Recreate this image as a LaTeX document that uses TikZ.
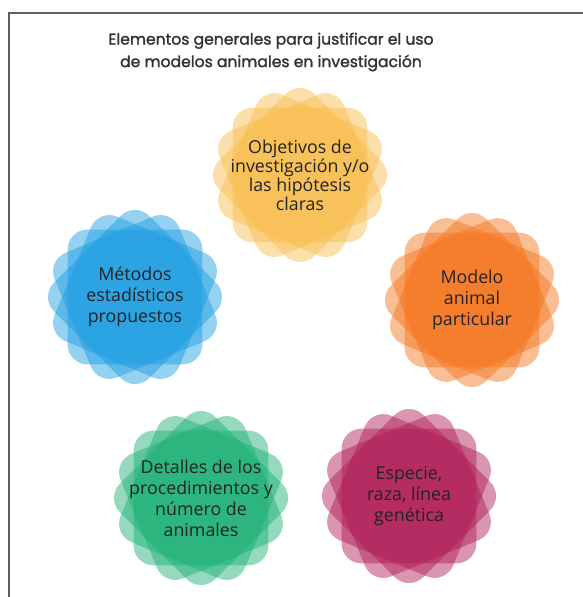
\documentclass[tikz,border=0pt]{standalone}
\usepackage{fontspec}
\setmainfont{Open Sans}
\newfontfamily\titlefont[FakeBold=1.6]{Poppins}
\definecolor{cyel}{RGB}{249,189,75}
\definecolor{corg}{RGB}{245,115,25}
\definecolor{cblu}{RGB}{25,155,225}
\definecolor{cgrn}{RGB}{25,175,115}
\definecolor{cmag}{RGB}{175,25,85}
\definecolor{txtgray}{RGB}{35,35,35}
\definecolor{titlegray}{RGB}{50,50,50}
\definecolor{framegray}{RGB}{95,95,95}
\tikzset{
  petal/.style={fill=#1, fill opacity=.46, rounded corners=20pt},
  flowertext/.style={align=center, text=txtgray, font=\fontsize{17.8}{21}\selectfont, inner sep=0pt},
}
\newcommand\myflower[6][21]{%
  \foreach \ang in {0,22.5,45,67.5}
    \fill[petal=#5, rotate around={\ang:(#3,#4)}] (#3-67.4,#4-67.4) rectangle (#3+67.4,#4+67.4);
  \node[flowertext, font=\fontsize{17.8}{#1}\selectfont] (#2) at (#3,#4) {#6};
}
\begin{document}
\begin{tikzpicture}[x=1pt,y=-1pt]
\fill[white] (0,0) rectangle (583,597);
\useasboundingbox (0,0) rectangle (583,597);
\coordinate (fr1) at (583,13);
\coordinate (fr2) at (9,13);
\coordinate (fr3) at (9,597);
\draw[framegray, line width=2pt] (fr1) -- (fr2) -- (fr3);
\node[align=center, text=titlegray, font=\titlefont\fontsize{15.6}{22.5}\selectfont] (title) at (271,52)
  {Elementos generales para justificar el uso\\de modelos animales en investigación};
\myflower[19]{obj}{300}{175}{cyel}{Objetivos de\\investigación y/o\\las hipótesis\\claras}
\myflower{mod}{472}{300}{corg}{Modelo\\animal\\particular}
\myflower{met}{135}{297}{cblu}{Métodos\\estadísticos\\propuestos}
\myflower{det}{201}{498}{cgrn}{Detalles de los\\procedimientos y\\número de\\animales}
\myflower{esp}{409}{496}{cmag}{Especie,\\raza, línea\\genética}
\end{tikzpicture}
\end{document}
